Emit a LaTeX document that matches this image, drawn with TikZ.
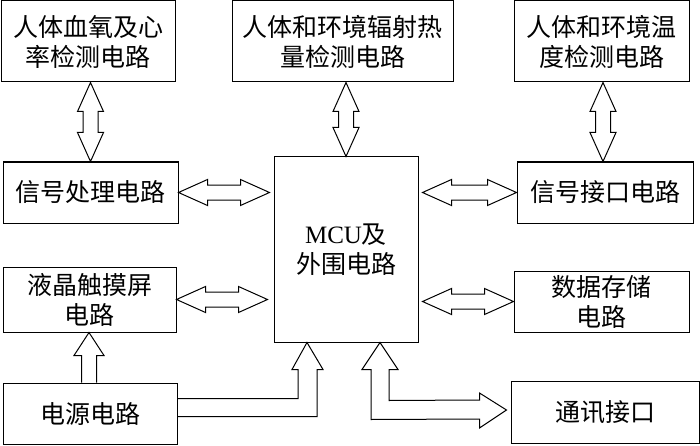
\documentclass[tikz,border=0pt]{standalone}
\usepackage{fontspec}
\setmainfont{Liberation Serif}
\newfontfamily\cjk{Noto Sans CJK SC}
\usetikzlibrary{calc}

% hollow arrow sizes
\newcommand{\arrhl}{29pt}
\newcommand{\arrhw}{13pt}
\newcommand{\arrsw}{7.5pt}
% hollow arrow, heads at both ends
\newcommand{\dblarrow}[2]{%
  \draw[hollow] (#1)
    -- ($(#1)!\arrhl!(#2)!\arrhw!90:(#2)$)
    -- ($(#1)!\arrhl!(#2)!\arrsw!90:(#2)$)
    -- ($(#2)!\arrhl!(#1)!\arrsw!-90:(#1)$)
    -- ($(#2)!\arrhl!(#1)!\arrhw!-90:(#1)$)
    -- (#2)
    -- ($(#2)!\arrhl!(#1)!\arrhw!90:(#1)$)
    -- ($(#2)!\arrhl!(#1)!\arrsw!90:(#1)$)
    -- ($(#1)!\arrhl!(#2)!\arrsw!-90:(#2)$)
    -- ($(#1)!\arrhl!(#2)!\arrhw!-90:(#2)$)
    -- cycle;}
% hollow arrow, head at #2 only
\newcommand{\sglarrow}[2]{%
  \draw[hollow] ($(#1)!\arrsw!90:(#2)$)
    -- ($(#2)!23pt!(#1)!\arrsw!-90:(#1)$)
    -- ($(#2)!23pt!(#1)!15pt!-90:(#1)$)
    -- (#2)
    -- ($(#2)!23pt!(#1)!15pt!90:(#1)$)
    -- ($(#2)!23pt!(#1)!\arrsw!90:(#1)$)
    -- ($(#1)!\arrsw!-90:(#2)$);}

\begin{document}
\begin{tikzpicture}[x=1pt,y=1pt,
box/.style={draw,line width=1pt,align=center,inner sep=0pt,font=\cjk\fontsize{25}{30}\selectfont},
hollow/.style={draw,line width=1pt,line join=miter}]
\useasboundingbox (0,0) rectangle (700,445);
\node[box,minimum width=174pt,minimum height=81pt] (oxy) at (88,403.5) {人体血氧及心\\率检测电路};
\node[box,minimum width=221pt,minimum height=81pt] (rad) at (342.5,403.5) {人体和环境辐射热\\量检测电路};
\node[box,minimum width=175pt,minimum height=81pt] (temp) at (601.5,403.5) {人体和环境温\\度检测电路};
\node[box,minimum width=175pt,minimum height=61pt] (sig) at (90.5,252.5) {信号处理电路};
\node[box,minimum width=144pt,minimum height=185pt] (mcu) at (346,195.5) {\rmfamily MCU{\cjk 及}\\外围电路};
\node[box,minimum width=176pt,minimum height=61pt] (iface) at (605,252.5) {信号接口电路};
\node[box,minimum width=173pt,minimum height=65pt] (lcd) at (89.5,145.5) {液晶触摸屏\\电路};
\node[box,minimum width=175pt,minimum height=61pt] (store) at (601.5,143.5) {数据存储\\电路};
\node[box,minimum width=174pt,minimum height=61pt] (power) at (90,31.5) {电源电路};
\node[box,minimum width=188pt,minimum height=62pt] (comm) at (605,33) {通讯接口};
% vertical links
\coordinate (a1) at (sig.north |- oxy.south);
\dblarrow{a1}{sig.north}
\coordinate (b1) at (mcu.north |- rad.south);
\dblarrow{b1}{mcu.north}
\coordinate (c1) at ($(temp.south)+(1.5,0)$);
\coordinate (c2) at (c1 |- iface.north);
\dblarrow{c1}{c2}
% horizontal links
\coordinate (d2) at ($(mcu.west |- sig.east)+(-4,0)$);
\dblarrow{sig.east}{d2}
\coordinate (e1) at ($(mcu.east |- iface.west)+(4,0)$);
\dblarrow{e1}{iface.west}
\coordinate (f2) at ($(mcu.west |- lcd.east)+(-6,0)$);
\dblarrow{lcd.east}{f2}
\coordinate (g1) at ($(mcu.east |- store.west)+(4,0)$);
\dblarrow{g1}{store.west}
% power supply
\coordinate (p1) at ($(power.north)+(-1,0)$);
\coordinate (p2) at (p1 |- lcd.south);
\sglarrow{p1}{p2}
\coordinate (ptip) at ($(mcu.south)+(-39,0)$);
\coordinate (pin) at ($(ptip)+(-9,-56)$);
\coordinate (pout) at ($(ptip)+(10,-74)$);
\draw[hollow] (power.east |- pin) -- (pin) -- ($(ptip)+(-9,-27)$) -- ($(ptip)+(-15,-27)$) -- (ptip)
  -- ($(ptip)+(16,-27)$) -- ($(ptip)+(10,-27)$) -- (pout) -- (power.east |- pout);
% MCU to comm
\coordinate (ctip) at ($(mcu.south)+(34,0)$);
\coordinate (ctip2) at ($(comm.west)+(-4,2)$);
\coordinate (cin) at ($(ctip)+(9,-58)$);
\coordinate (cout) at ($(ctip)+(-9,-77)$);
\draw[hollow] (ctip) -- ($(ctip)+(18,-27)$) -- ($(ctip)+(9,-27)$) -- (cin) -- ($(ctip2)+(-27,10)$)
  -- ($(ctip2)+(-27,17)$) -- (ctip2) -- ($(ctip2)+(-27,-18)$) -- ($(ctip2)+(-27,-9)$) -- (cout)
  -- ($(ctip)+(-9,-27)$) -- ($(ctip)+(-18,-27)$) -- cycle;
\end{tikzpicture}
\end{document}
